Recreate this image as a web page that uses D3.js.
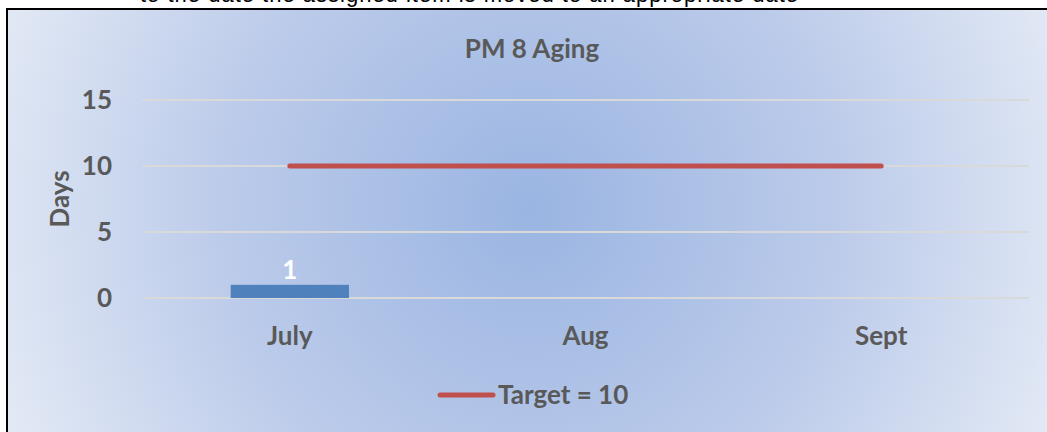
<!DOCTYPE html>
<html>
<head>
<meta charset="utf-8">
<script src="https://cdn.jsdelivr.net/npm/d3@7"></script>
<style>
  body { margin: 0; background: #fff; }
  svg { display: block; }
  text { font-family: Lato, "Open Sans", sans-serif; }
</style>
</head>
<body>
<div id="chart"></div>
<script>
// chart data
var categories = ["July", "Aug", "Sept"];
var agingDays = [1, null, null];
var targetDays = [10, 10, 10];
var yTicks = [0, 5, 10, 15];
var title = "PM 8 Aging";
var yLabel = "Days";
var legendLabel = "Target = 10";
var pageText = "to the date the assigned item is moved to an appropriate date";

var W = 1047, H = 432;
var margin = {top: 100, right: 18, bottom: 134, left: 142};
var width = W - margin.left - margin.right,
    height = H - margin.top - margin.bottom;

var FONT = "26px";

var svg = d3.select("#chart").append("svg")
    .attr("width", W)
    .attr("height", H);

// bit of document text cut off above the chart
svg.append("text")
    .attr("x", 140)
    .attr("y", 2)
    .style("font-family", "'Liberation Sans', sans-serif")
    .style("font-size", "22px")
    .style("fill", "#000")
    .style("letter-spacing", "1px")
    .text(pageText);

var defs = svg.append("defs");
var grad = defs.append("radialGradient")
    .attr("id", "bg")
    .attr("gradientUnits", "userSpaceOnUse")
    .attr("cx", 530).attr("cy", 210).attr("r", 560);
grad.append("stop").attr("offset", "0%").attr("stop-color", "#9ab5e2");
grad.append("stop").attr("offset", "55%").attr("stop-color", "#bccbea");
grad.append("stop").attr("offset", "100%").attr("stop-color", "#e2e9f5");

svg.append("rect")
    .attr("x", 7).attr("y", 9)
    .attr("width", 1060).attr("height", 440)
    .attr("fill", "url(#bg)")
    .attr("stroke", "#000")
    .attr("stroke-width", 2);

var g = svg.append("g")
    .attr("transform", "translate(" + margin.left + "," + margin.top + ")");

var x = d3.scaleBand().domain(categories).range([0, width]).padding(0);
var y = d3.scaleLinear().domain([0, 15]).range([height, 0]);

// gridlines
g.selectAll(".grid")
    .data(yTicks)
    .enter().append("line")
    .attr("class", "grid")
    .attr("x1", 0).attr("x2", width)
    .attr("y1", function(d) { return y(d); })
    .attr("y2", function(d) { return y(d); })
    .attr("stroke", "#d9d9d9")
    .attr("stroke-width", 2);

// y tick labels
g.selectAll(".ytick")
    .data(yTicks)
    .enter().append("text")
    .attr("class", "ytick")
    .attr("x", -30)
    .attr("y", function(d) { return y(d); })
    .attr("dy", "0.36em")
    .attr("text-anchor", "end")
    .style("font-size", FONT)
    .style("font-weight", "bold")
    .style("fill", "#595959")
    .text(function(d) { return d; });

// x labels
g.selectAll(".xtick")
    .data(categories)
    .enter().append("text")
    .attr("class", "xtick")
    .attr("x", function(d) { return x(d) + x.bandwidth() / 2; })
    .attr("y", height + 47)
    .attr("text-anchor", "middle")
    .style("font-size", FONT)
    .style("font-weight", "bold")
    .style("fill", "#595959")
    .text(function(d) { return d; });

// bars
var barW = x.bandwidth() * 0.4;
var barData = categories.map(function(c, i) { return {cat: c, v: agingDays[i]}; })
    .filter(function(d) { return d.v != null; });

g.selectAll(".bar")
    .data(barData)
    .enter().append("rect")
    .attr("class", "bar")
    .attr("x", function(d) { return x(d.cat) + (x.bandwidth() - barW) / 2; })
    .attr("y", function(d) { return y(d.v); })
    .attr("width", barW)
    .attr("height", function(d) { return y(0) - y(d.v); })
    .attr("fill", "#4f81bd");

g.selectAll(".barlabel")
    .data(barData)
    .enter().append("text")
    .attr("class", "barlabel")
    .attr("x", function(d) { return x(d.cat) + x.bandwidth() / 2; })
    .attr("y", function(d) { return y(d.v) - 6; })
    .attr("text-anchor", "middle")
    .style("font-size", FONT)
    .style("font-weight", "bold")
    .style("fill", "#fff")
    .text(function(d) { return d.v; });

// target line
var line = d3.line()
    .x(function(d, i) { return x(categories[i]) + x.bandwidth() / 2; })
    .y(function(d) { return y(d); });

g.append("path")
    .datum(targetDays)
    .attr("d", line)
    .attr("fill", "none")
    .attr("stroke", "#c0504d")
    .attr("stroke-width", 5)
    .attr("stroke-linecap", "round");

// title
svg.append("text")
    .attr("x", 532)
    .attr("y", 58)
    .attr("text-anchor", "middle")
    .style("font-size", FONT)
    .style("font-weight", "bold")
    .style("fill", "#595959")
    .text(title);

// y axis title
svg.append("text")
    .attr("transform", "translate(69," + (margin.top + height / 2) + ") rotate(-90)")
    .attr("text-anchor", "middle")
    .style("font-size", FONT)
    .style("font-weight", "bold")
    .style("fill", "#595959")
    .text(yLabel);

// legend
var legend = svg.append("g");
legend.append("line")
    .attr("x1", 440).attr("x2", 493)
    .attr("y1", 395).attr("y2", 395)
    .attr("stroke", "#c0504d")
    .attr("stroke-width", 5)
    .attr("stroke-linecap", "round");
legend.append("text")
    .attr("x", 498)
    .attr("y", 404)
    .style("font-size", FONT)
    .style("font-weight", "bold")
    .style("fill", "#595959")
    .text(legendLabel);
</script>
</body>
</html>
